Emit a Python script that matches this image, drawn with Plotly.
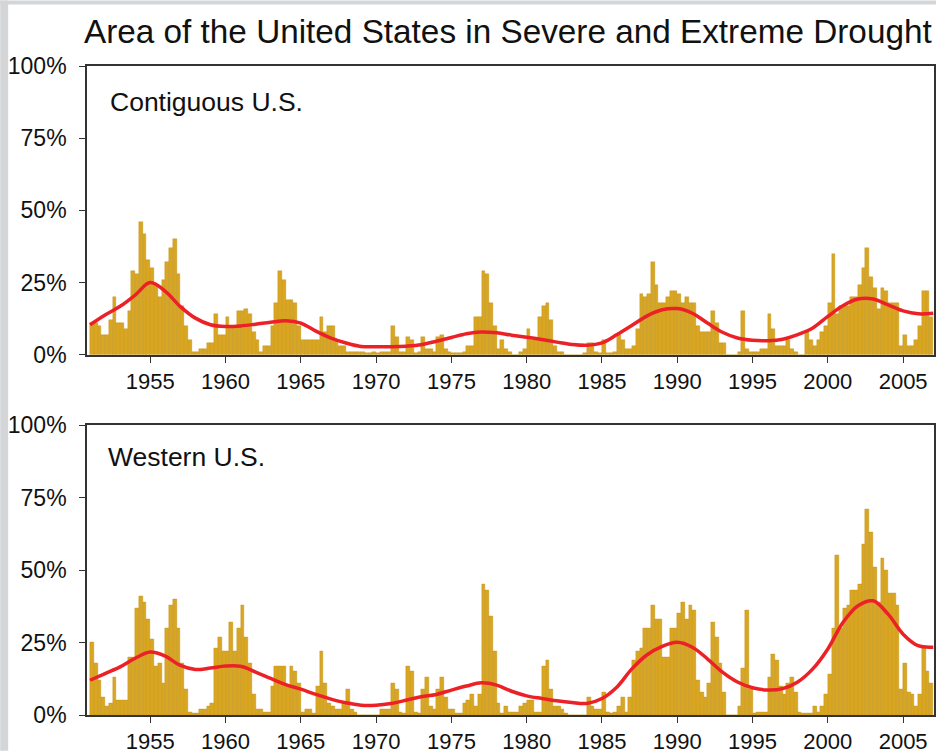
import plotly.graph_objects as go
from plotly.subplots import make_subplots

# ---------------- data ----------------
years = list(range(1951, 2007))  # each year has 4 quarterly values

contiguous = [
    [11, 11, 10, 7], [7, 12, 20, 11], [11, 9, 15, 29], [28, 46, 42, 33],
    [30, 24, 20, 26], [32, 37, 40, 28], [17, 10, 5, 1], [1, 2, 2, 4],
    [4, 14, 7, 7], [13, 10, 10, 15], [15, 16, 14, 8], [5, 1, 3, 3],
    [10, 18, 29, 26], [19, 19, 18, 10], [5, 5, 5, 5], [5, 13, 8, 10],
    [10, 5, 3, 3], [1, 1, 1, 1], [1, 0.5, 0.5, 1], [0.5, 1, 1, 1],
    [10, 6, 1, 1], [6, 5, 0.5, 1], [6, 2, 2, 1], [6, 7, 2, 1],
    [0.5, 0.5, 0.5, 1], [3, 3, 13, 13], [29, 28, 18, 10], [2, 5, 2, 1],
    [0, 0, 1, 2], [9, 5, 5, 13], [17, 18, 12, 3], [1, 1, 0, 0],
    [0, 0, 0, 0.5], [4, 4, 1, 0.5], [5, 0.5, 0.5, 1], [7, 5, 2, 2],
    [3, 9, 21, 20], [21, 32, 24, 18], [18, 20, 22, 22], [21, 18, 20, 18],
    [18, 10, 8, 8], [8, 15, 11, 4], [4, 0, 0, 0], [1, 15, 2, 1],
    [1, 1, 2, 2], [14, 9, 3, 3], [3, 5, 2, 1], [0, 0, 8, 5],
    [3, 5, 8, 10], [18, 35, 14, 17], [17, 17, 20, 20], [24, 30, 37, 27],
    [23, 16, 23, 22], [18, 18, 18, 3], [7, 3, 3, 5], [10, 22, 22, 13],
]

western = [
    [25, 18, 12, 6], [3, 4, 13, 5], [5, 5, 20, 20], [37, 41, 39, 33],
    [26, 17, 18, 11], [30, 38, 40, 30], [18, 9, 1, 0.5], [0.5, 2, 2, 3],
    [4, 23, 27, 22], [22, 32, 22, 30], [38, 27, 18, 7], [2, 2, 1, 1],
    [10, 17, 17, 17], [10, 17, 15, 11], [1, 2, 2, 0.5], [10, 22, 11, 4],
    [3, 2, 2, 4], [9, 2, 1, 0], [0, 0, 0, 0], [0, 2, 2, 2],
    [11, 9, 1, 0.5], [17, 15, 1, 0.5], [9, 13, 3, 2], [9, 13, 6, 2],
    [2, 0.5, 0.5, 4], [5, 7, 3, 7], [45, 43, 34, 22], [4, 0.5, 3, 1],
    [1, 1, 3, 4], [5, 5, 1, 1], [17, 19, 9, 3], [3, 2, 0.5, 0],
    [0, 0, 0, 0], [6, 3, 2, 2], [8, 1, 0.5, 1], [3, 6, 1, 6],
    [19, 22, 23, 30], [30, 38, 33, 33], [20, 20, 30, 30], [35, 39, 33, 38],
    [36, 12, 8, 6], [11, 32, 27, 18], [8, 0, 0, 0], [3, 16, 36, 9],
    [0.5, 1, 1, 1], [13, 21, 19, 10], [7, 11, 13, 8], [1, 0.5, 0.5, 0.5],
    [3, 1, 3, 7], [14, 30, 55, 30], [37, 38, 43, 43], [45, 59, 71, 63],
    [51, 39, 54, 50], [42, 42, 38, 9], [18, 8, 7, 3], [7, 23, 15, 11],
]

trend_years = list(range(1951, 2008))
contiguous_trend = [
    10.4, 13.8, 16.8, 20.7, 25.0, 22.0, 16.7, 12.7, 10.4, 9.8,
    10.0, 10.6, 11.3, 11.8, 11.0, 8.2, 5.8, 4.1, 2.9, 2.8,
    2.8, 3.0, 3.5, 4.7, 6.0, 7.3, 7.9, 7.6, 6.8, 6.1,
    5.3, 4.4, 3.6, 3.3, 4.1, 7.0, 10.2, 13.5, 15.6, 16.0,
    14.4, 11.0, 7.8, 5.8, 5.0, 4.9, 5.4, 7.0, 9.3, 13.3,
    17.0, 19.3, 19.3, 17.3, 15.2, 14.2, 14.4,
]
western_trend = [
    12.0, 14.3, 16.6, 19.6, 21.7, 20.3, 17.1, 15.7, 16.2, 16.9,
    16.8, 14.8, 12.6, 10.5, 8.9, 7.1, 5.5, 4.2, 3.4, 3.4,
    4.0, 5.1, 6.3, 7.1, 8.6, 10.0, 11.1, 10.3, 8.2, 6.6,
    5.7, 4.9, 4.3, 4.0, 5.7, 9.7, 16.0, 20.8, 23.7, 25.1,
    23.4, 19.4, 14.8, 11.4, 9.4, 8.6, 9.1, 11.4, 15.9, 22.8,
    31.9, 37.7, 39.4, 34.8, 27.9, 23.9, 23.4,
]

panel_labels = ["Contiguous U.S.", "Western U.S."]
x_ticks = [1955, 1960, 1965, 1970, 1975, 1980, 1985, 1990, 1995, 2000, 2005]
y_ticks = [0, 25, 50, 75, 100]
y_tick_labels = ["0%", "25%", "50%", "75%", "100%"]
title_text = "Area of the United States in Severe and Extreme Drought"

# ---------------- figure ----------------
W, H = 938, 756
ML, MR, MT, MB = 87, 2, 66, 36
FONT = "Liberation Sans, Arial, Helvetica, sans-serif"
BAR = "#d9a623"
BAR_EDGE = "#bf8f17"
RED = "#ec2127"
AX = "#333333"

fig = make_subplots(rows=2, cols=1, vertical_spacing=0.1086)

def quarters(vals):
    xs, ys = [], []
    for y, q in zip(years, vals):
        for i, v in enumerate(q):
            xs.append(y + (i + 0.5) / 4)
            ys.append(v)
    return xs, ys

for row, (vals, trend) in enumerate([(contiguous, contiguous_trend),
                                     (western, western_trend)], start=1):
    bx, by = quarters(vals)
    fig.add_trace(go.Bar(x=bx, y=by, width=0.25,
                         marker=dict(color=BAR, line=dict(color=BAR_EDGE, width=0.4)),
                         showlegend=False, hoverinfo="skip"), row=row, col=1)
    fig.add_trace(go.Scatter(x=trend_years, y=trend, mode="lines",
                             line=dict(color=RED, width=3.5, shape="spline", smoothing=1.0),
                             showlegend=False, hoverinfo="skip"), row=row, col=1)

axis_common = dict(showgrid=False, zeroline=False, showline=True, linecolor=AX,
                   linewidth=1.6, mirror=True, ticks="outside", ticklen=6,
                   tickcolor=AX, tickwidth=1.4)

for row in (1, 2):
    fig.update_xaxes(range=[1950.8, 2007.05], tickmode="array", tickvals=x_ticks,
                     tickfont=dict(family=FONT, size=22, color="#111111"),
                     row=row, col=1, **axis_common)
    fig.update_yaxes(range=[0, 100], tickmode="array", tickvals=y_ticks,
                     ticktext=y_tick_labels, ticklabelstandoff=8,
                     tickfont=dict(family=FONT, size=23, color="#111111"),
                     row=row, col=1, **axis_common)

fig.update_layout(
    yaxis=dict(domain=[0.555, 1.0]),
    yaxis2=dict(domain=[0.0, 0.4465]),
)

# panel labels
fig.add_annotation(text=panel_labels[0], xref="x domain", yref="y domain",
                   x=0.025, y=0.935, xanchor="left", yanchor="top", showarrow=False,
                   font=dict(family=FONT, size=26.5, color="#111111"))
fig.add_annotation(text=panel_labels[1], xref="x2 domain", yref="y2 domain",
                   x=0.022, y=0.95, xanchor="left", yanchor="top", showarrow=False,
                   font=dict(family=FONT, size=26.5, color="#111111"))

pw = W - ML - MR
ph = H - MT - MB
GRAY = "#d4d5d7"
fig.update_layout(
    width=W, height=H,
    margin=dict(l=ML, r=MR, t=MT, b=MB),
    paper_bgcolor="white", plot_bgcolor="white",
    bargap=0,
    title=dict(text=title_text, x=84 / W, xanchor="left", xref="container",
               y=1 - 31 / H, yanchor="middle", yref="container",
               font=dict(family=FONT, size=33.3, color="#111111")),
    shapes=[
        dict(type="rect", xref="paper", yref="paper", layer="below",
             x0=-ML / pw, x1=(8 - ML) / pw, y0=-MB / ph, y1=1 + MT / ph,
             fillcolor=GRAY, line=dict(width=0)),
        dict(type="rect", xref="paper", yref="paper", layer="below",
             x0=-ML / pw, x1=1 + MR / pw, y0=1 + (MT - 4) / ph, y1=1 + MT / ph,
             fillcolor=GRAY, line=dict(width=0)),
    ],
)

fig.write_html("out.html", config={"displayModeBar": False},
               post_script="document.body.style.margin='0';document.body.style.overflow='hidden';")
